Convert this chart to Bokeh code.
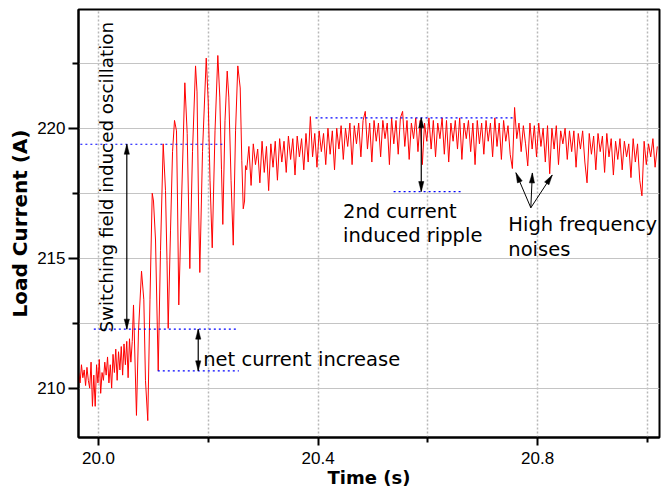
import numpy as np
from bokeh.plotting import figure
from bokeh.models import Range1d, FixedTicker, PrintfTickFormatter
from bokeh.embed import file_html
from bokeh.resources import INLINE
from bokeh.core.properties import value

# ---------------- data ----------------
# pre-switching segment, uniform sampling
early_t0 = 19.964
early_dt = 0.0025
early_current = [210.6, 210.2, 210.9, 210.4, 210.7, 210.1, 210.8, 210.3, 210.0, 211.0,
                 209.3, 210.5, 209.3, 210.9, 210.2, 211.1, 209.8, 210.6, 210.3, 211.0,
                 210.5, 211.2, 210.2, 210.9, 210.0, 211.3, 210.6, 211.5, 210.3, 211.4,
                 210.7, 211.6, 210.5, 211.7, 210.9, 211.8, 210.4, 211.9, 211.0, 211.8]

# switching-field oscillation segment
osc_time = [20.0638, 20.0692, 20.0729, 20.0784, 20.0826, 20.0856, 20.0898, 20.0938, 20.0979, 20.1002,
            20.1039, 20.1088, 20.1130, 20.1179, 20.1221, 20.1248, 20.1270, 20.1312, 20.1349, 20.1385,
            20.1421, 20.1440, 20.1463, 20.1513, 20.1573, 20.1616, 20.1640, 20.1664, 20.1713, 20.1768,
            20.1795, 20.1822, 20.1846, 20.1895, 20.1963, 20.1999, 20.2032, 20.2072, 20.2123, 20.2174,
            20.2210, 20.2241, 20.2265, 20.2305, 20.2345, 20.2374, 20.2415, 20.2455, 20.2497, 20.2538,
            20.2582, 20.2611, 20.2637, 20.2661, 20.2679]
osc_current = [213.2, 208.95, 212.2, 214.5, 213.4, 210.3, 208.75, 213.4, 217.5, 217.2,
               215.7, 210.67, 215.3, 219.4, 217.6, 214.9, 212.3, 216.05, 219.1, 220.3,
               219.9, 217.2, 213.2, 217.2, 221.75, 219.8, 217.2, 214.6, 219.1, 222.4,
               221.4, 217.2, 214.45, 219.1, 222.7, 221.05, 218.0, 215.4, 219.9, 222.8,
               221.2, 218.4, 216.3, 220.3, 222.2, 221.2, 218.0, 215.5, 219.9, 222.4,
               221.55, 218.75, 216.9, 217.2, 218.56]

# steady-state ripple segment, uniform sampling
steady_t0 = 20.270
steady_dt = 0.004
steady_current = [218.4, 219.3, 217.8, 219.4, 218.6, 219.2, 217.9, 219.5, 218.3, 219.3,
                  217.6, 219.4, 218.5, 219.5, 218.0, 219.6, 218.7, 219.5, 218.3, 219.7,
                  218.8, 219.6, 218.2, 219.7, 218.9, 219.6, 218.4, 219.8, 218.7, 220.45,
                  218.9, 219.8, 218.5, 219.9, 219.1, 219.8, 218.6, 220.0, 219.0, 219.9,
                  218.4, 220.0, 219.2, 220.1, 218.8, 220.0, 219.3, 220.2, 218.6, 220.1,
                  219.4, 220.2, 218.9, 220.3, 220.65, 219.2, 220.2, 218.7, 220.3, 219.5,
                  220.2, 218.9, 220.3, 219.6, 220.2, 218.6, 220.4, 219.4, 220.3, 219.0,
                  220.4, 220.65, 219.3, 220.3, 218.8, 220.2, 219.6, 220.4, 219.1, 220.3,
                  218.6, 220.2, 219.5, 220.4, 219.2, 220.3, 218.9, 220.2, 219.6, 220.4,
                  219.0, 220.3, 218.7, 220.2, 219.5, 220.3, 219.2, 220.4, 218.8, 220.2,
                  219.6, 220.3, 219.1, 220.2, 218.6, 220.3, 219.4, 220.2, 219.0, 220.3,
                  219.5, 220.2, 218.9, 220.4, 219.3, 220.2, 218.8, 220.3, 219.5, 220.1,
                  219.0, 218.45, 220.8, 219.6, 220.2, 219.1, 220.1, 219.4, 218.55, 220.2,
                  219.2, 220.1, 218.9, 220.2, 219.3, 220.0, 218.7, 220.1, 218.25, 220.0,
                  219.2, 220.1, 218.6, 219.9, 219.4, 220.0, 218.8, 219.9, 219.1, 219.9,
                  218.5, 219.8, 219.2, 219.9, 218.7, 217.9, 219.8, 219.0, 219.7, 218.4,
                  219.8, 219.1, 219.7, 218.3, 219.8, 218.9, 219.6, 218.2, 219.5, 218.8,
                  219.6, 218.4, 219.5, 218.9, 219.4, 218.1, 219.6, 218.7, 219.4, 218.0,
                  217.4, 219.5, 218.6, 219.4, 218.9, 219.6, 218.5, 219.3]

x_major_ticks = [20.0, 20.4, 20.8]
x_minor_ticks = [20.2, 20.6, 21.0]
y_major_ticks = [210, 215, 220]
y_minor_ticks = [212.5, 217.5, 222.5]

# annotation guide levels (blue dotted lines)
guide_t_start = [19.967, 19.9915, 20.108, 20.3954, 20.5376]
guide_t_end = [20.230, 20.2528, 20.2557, 20.7577, 20.6616]
guide_level = [219.385, 212.27, 210.665, 220.40, 217.565]

# double-headed arrows: time, lower level, upper level
dbl_arrow_t = [20.0516, 20.1817, 20.588]
dbl_arrow_lo = [212.27, 210.665, 217.565]
dbl_arrow_hi = [219.385, 212.27, 220.40]

# noise pointer arrows: common origin and tips
noise_origin = (20.7876, 216.94)
noise_tip_t = [20.7604, 20.7904, 20.8266]
noise_tip_v = [218.29, 218.28, 218.20]

# ---------------- build series ----------------
early_time = early_t0 + early_dt * np.arange(len(early_current))
steady_time = steady_t0 + steady_dt * np.arange(len(steady_current))
time = np.concatenate([early_time, np.array(osc_time), steady_time])
current = np.concatenate([np.array(early_current), np.array(osc_current), np.array(steady_current)])

X0, X1 = 19.9636, 21.022
Y0, Y1 = 208.1, 224.57

p = figure(width=662, height=493, output_backend="svg", toolbar_location=None,
           x_range=Range1d(X0, X1), y_range=Range1d(Y0, Y1),
           min_border_left=78, min_border_right=3, min_border_top=9, min_border_bottom=56)
p.background_fill_color = "white"
p.border_fill_color = "white"
p.outline_line_color = "black"
p.outline_line_width = 2

# axes
p.xaxis.ticker = FixedTicker(ticks=x_major_ticks, minor_ticks=x_minor_ticks)
p.yaxis.ticker = FixedTicker(ticks=y_major_ticks, minor_ticks=y_minor_ticks)
p.xaxis.formatter = PrintfTickFormatter(format="%.1f")
p.yaxis.formatter = PrintfTickFormatter(format="%d")
for ax in (p.xaxis, p.yaxis):
    ax.axis_line_color = "black"
    ax.axis_line_width = 2
    ax.major_tick_line_color = "black"
    ax.major_tick_line_width = 2
    ax.minor_tick_line_color = "black"
    ax.minor_tick_line_width = 2
    ax.major_tick_in = 0
    ax.minor_tick_in = 0
    ax.major_label_text_font = "Liberation Sans"
    ax.major_label_text_font_size = "17px"
    ax.major_label_text_color = "black"
    ax.axis_label_text_font = "DejaVu Sans"
    ax.axis_label_text_font_style = "bold"
    ax.axis_label_text_color = "black"
p.xaxis.major_tick_out = 8
p.xaxis.minor_tick_out = 5
p.xaxis.major_label_standoff = 6
p.xaxis.axis_label = "Time (s)"
p.xaxis.axis_label_text_font_size = "18px"
p.xaxis.axis_label_standoff = 0
p.yaxis.major_tick_out = 10
p.yaxis.minor_tick_out = 6
p.yaxis.major_label_standoff = 3
p.yaxis.axis_label = "Load Current (A)"
p.yaxis.axis_label_text_font_size = "20px"
p.yaxis.axis_label_standoff = 2

# grids
p.ygrid.grid_line_color = "#c4c4c4"
p.ygrid.grid_line_width = 1
p.ygrid.minor_grid_line_color = "#c4c4c4"
p.ygrid.minor_grid_line_width = 1
p.xgrid.grid_line_color = "#b8b8b8"
p.xgrid.grid_line_width = 1.5
p.xgrid.grid_line_dash = "2 2"
p.xgrid.minor_grid_line_color = "#b8b8b8"
p.xgrid.minor_grid_line_width = 1.5
p.xgrid.minor_grid_line_dash = "2 2"

# signal
p.line(time, current, line_color="#ff0000", line_width=1)

# blue dotted guides
p.segment(x0=guide_t_start, y0=guide_level, x1=guide_t_end, y1=guide_level,
          line_color="#0000ff", line_width=1.2, line_dash="2 3")

# arrows (narrow filled heads, built in pixel space)
SX = 581.0 / (X1 - X0)
SY = 428.0 / (Y1 - Y0)


def head(xt, yt, xf, yf, L=10.0, W=2.6):
    dx = (xt - xf) * SX
    dy = (yt - yf) * SY
    n = (dx * dx + dy * dy) ** 0.5
    ux, uy = dx / n, dy / n
    bx, by = -L * ux, -L * uy
    px, py = -uy * W, ux * W
    xs = [xt, xt + (bx + px) / SX, xt + (bx - px) / SX]
    ys = [yt, yt + (by + py) / SY, yt + (by - py) / SY]
    return xs, ys


hx, hy = [], []
for t, lo, hi in zip(dbl_arrow_t, dbl_arrow_lo, dbl_arrow_hi):
    a, b = head(t, hi, t, lo)
    hx.append(a); hy.append(b)
    a, b = head(t, lo, t, hi)
    hx.append(a); hy.append(b)
p.segment(x0=dbl_arrow_t, y0=dbl_arrow_lo, x1=dbl_arrow_t, y1=dbl_arrow_hi,
          line_color="black", line_width=1.2)
ox, oy = noise_origin
p.segment(x0=[ox] * 3, y0=[oy] * 3, x1=noise_tip_t, y1=noise_tip_v,
          line_color="black", line_width=1)
for t, v in zip(noise_tip_t, noise_tip_v):
    a, b = head(t, v, ox, oy)
    hx.append(a); hy.append(b)
p.patches(hx, hy, fill_color="black", line_color="black", line_width=0.5)

# texts
font = value("DejaVu Sans")
p.text(x=[20.0146], y=[212.14], text=["Switching field induced oscillation"],
       angle=np.pi / 2, text_font=font, text_font_size="18.3px",
       text_align="left", text_baseline="alphabetic", text_color="black")
p.text(x=[20.1908], y=[211.09], text=["net current increase"],
       text_font=font, text_font_size="19.5px", text_align="left",
       text_baseline="alphabetic", text_color="black")
p.text(x=[20.4454, 20.4454], y=[216.785, 215.86], text=["2nd current", "induced ripple"],
       text_font=font, text_font_size="19.5px", text_align="left",
       text_baseline="alphabetic", text_color="black")
p.text(x=[20.7466, 20.7466], y=[216.29, 215.35], text=["High frequency", "noises"],
       text_font=font, text_font_size="19.5px", text_align="left",
       text_baseline="alphabetic", text_color="black")

open("out.html", "w").write(file_html(p, INLINE))
